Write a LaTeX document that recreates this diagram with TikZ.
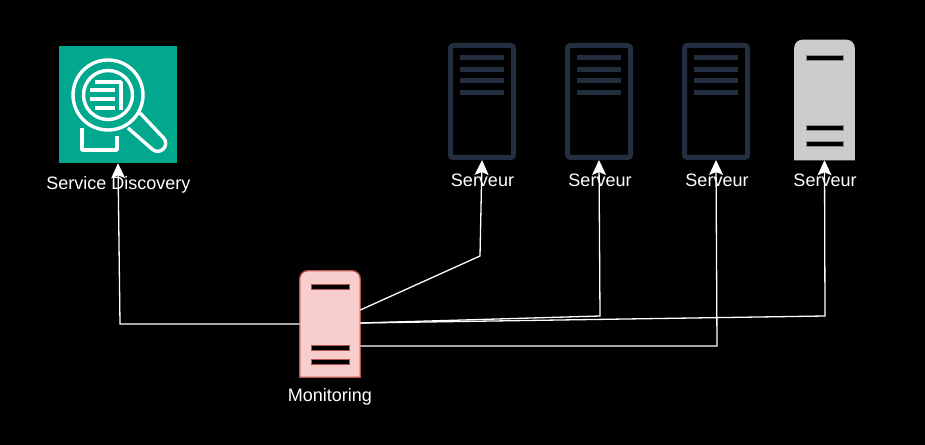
\documentclass[tikz,border=0pt]{standalone}
\usepackage{fontspec}
\setmainfont{Liberation Sans}
\usepackage{tikz}
\usetikzlibrary{arrows.meta}

\def\px{.75pt}
\definecolor{darkrack}{HTML}{232F3E}
\definecolor{tealbox}{HTML}{01A88D}
\definecolor{monfill}{HTML}{F8CECC}
\definecolor{monline}{HTML}{B85450}

\begin{document}
\begin{tikzpicture}[
    x=.75pt, y=-.75pt,
    label/.style={text=white, font=\fontsize{13.5pt}{16pt}\selectfont, inner sep=0pt},
    rack/.style={inner sep=0pt, minimum width=63*\px, minimum height=112*\px, draw=darkrack, line width=5*\px, rounded corners=2pt},
    rackbar/.style={fill=darkrack, draw=none},
    slot/.style={inner sep=0pt, minimum width=60*\px, minimum height=120*\px},
    lamp/.style={fill=black, draw=#1, line width=.5pt},
    icon/.style={draw=white, line width=3.4*\px, line join=round},
    arr/.style={draw=white, line width=1.3*\px, -{Stealth[length=15*\px, width=14*\px, inset=3*\px]}}]
  \useasboundingbox[fill=black] (0,0) rectangle (925,445);

  % service discovery
  \node[inner sep=0pt, minimum width=118*\px, minimum height=117*\px, fill=tealbox] (disc) at (118,104.5) {};
  \draw[icon] (108,95) circle (35);
  \draw[icon] (108,95) circle (24.5);
  \draw[icon, rounded corners=.1pt] (128,128) -- (152,149) arc (135:-45:8) -- (140,113);
  \draw[icon] (82,128) -- (82,150) -- (117,150) -- (117,136);
  \draw[icon] (95,82) -- (121,82) -- (121,110);
  \draw[icon] (90,90) -- (115,90);
  \draw[icon] (90,99) -- (115,99);
  \draw[icon] (95,108) -- (115,108);

  % dark servers
  \node[rack] (srv1) at (482,101.5) {};
  \node[rack] (srv2) at (599,101.5) {};
  \node[rack] (srv3) at (716,101.5) {};
  \foreach \cx in {482,599,716}
    \foreach \cy in {58,69.5,81,92.5}
      \fill[rackbar] (\cx-22,\cy-2.5) rectangle (\cx+22,\cy+2.5);

  % grey server
  \node[slot] (srv4) at (824.5,100) {};
  \fill[black!20] (srv4.south west) [rounded corners=6pt] -- (srv4.north west) -- (srv4.north east) [sharp corners] -- (srv4.south east) -- cycle;
  \foreach \cy in {58,128,144}
    \draw[lamp=black!45] (806,\cy-2.5) rectangle (843,\cy+2.5);

  % monitoring
  \node[slot, minimum height=106*\px] (mon) at (330,324) {};
  \filldraw[fill=monfill, draw=monline, line width=1.3*\px] (mon.south west) [rounded corners=6pt] -- (mon.north west) -- (mon.north east) [sharp corners] -- (mon.south east) -- cycle;
  \foreach \cy in {287,348,362}
    \draw[lamp=monline] (311,\cy-2.5) rectangle (349,\cy+2.5);

  \coordinate (b0) at (120,324);
  \coordinate (b1) at (480,256);
  \coordinate (b2) at (600,316);
  \coordinate (b3) at (717,346);
  \coordinate (b4) at (825,316);

  \draw[arr] (mon.west) -- (b0) -- (disc.south);
  \draw[arr] ([yshift=14*\px]mon.east) -- (b1) -- (srv1.south);
  \draw[arr] ([yshift=1*\px]mon.east) -- (b2) -- (srv2.south);
  \draw[arr] ([yshift=-22*\px]mon.east) -- (b3) -- (srv3.south);
  \draw[arr] ([yshift=1*\px]mon.east) -- (b4) -- (srv4.south);

  \node[label] (discl) at (118.5,184.5) {Service Discovery};
  \node[label] (srv1l) at (482.5,180.5) {Serveur};
  \node[label] (srv2l) at (600,180.5) {Serveur};
  \node[label] (srv3l) at (717,180.5) {Serveur};
  \node[label] (srv4l) at (825,180.5) {Serveur};
  \node[label] (monl) at (330,396.5) {Monitoring};
\end{tikzpicture}
\end{document}
